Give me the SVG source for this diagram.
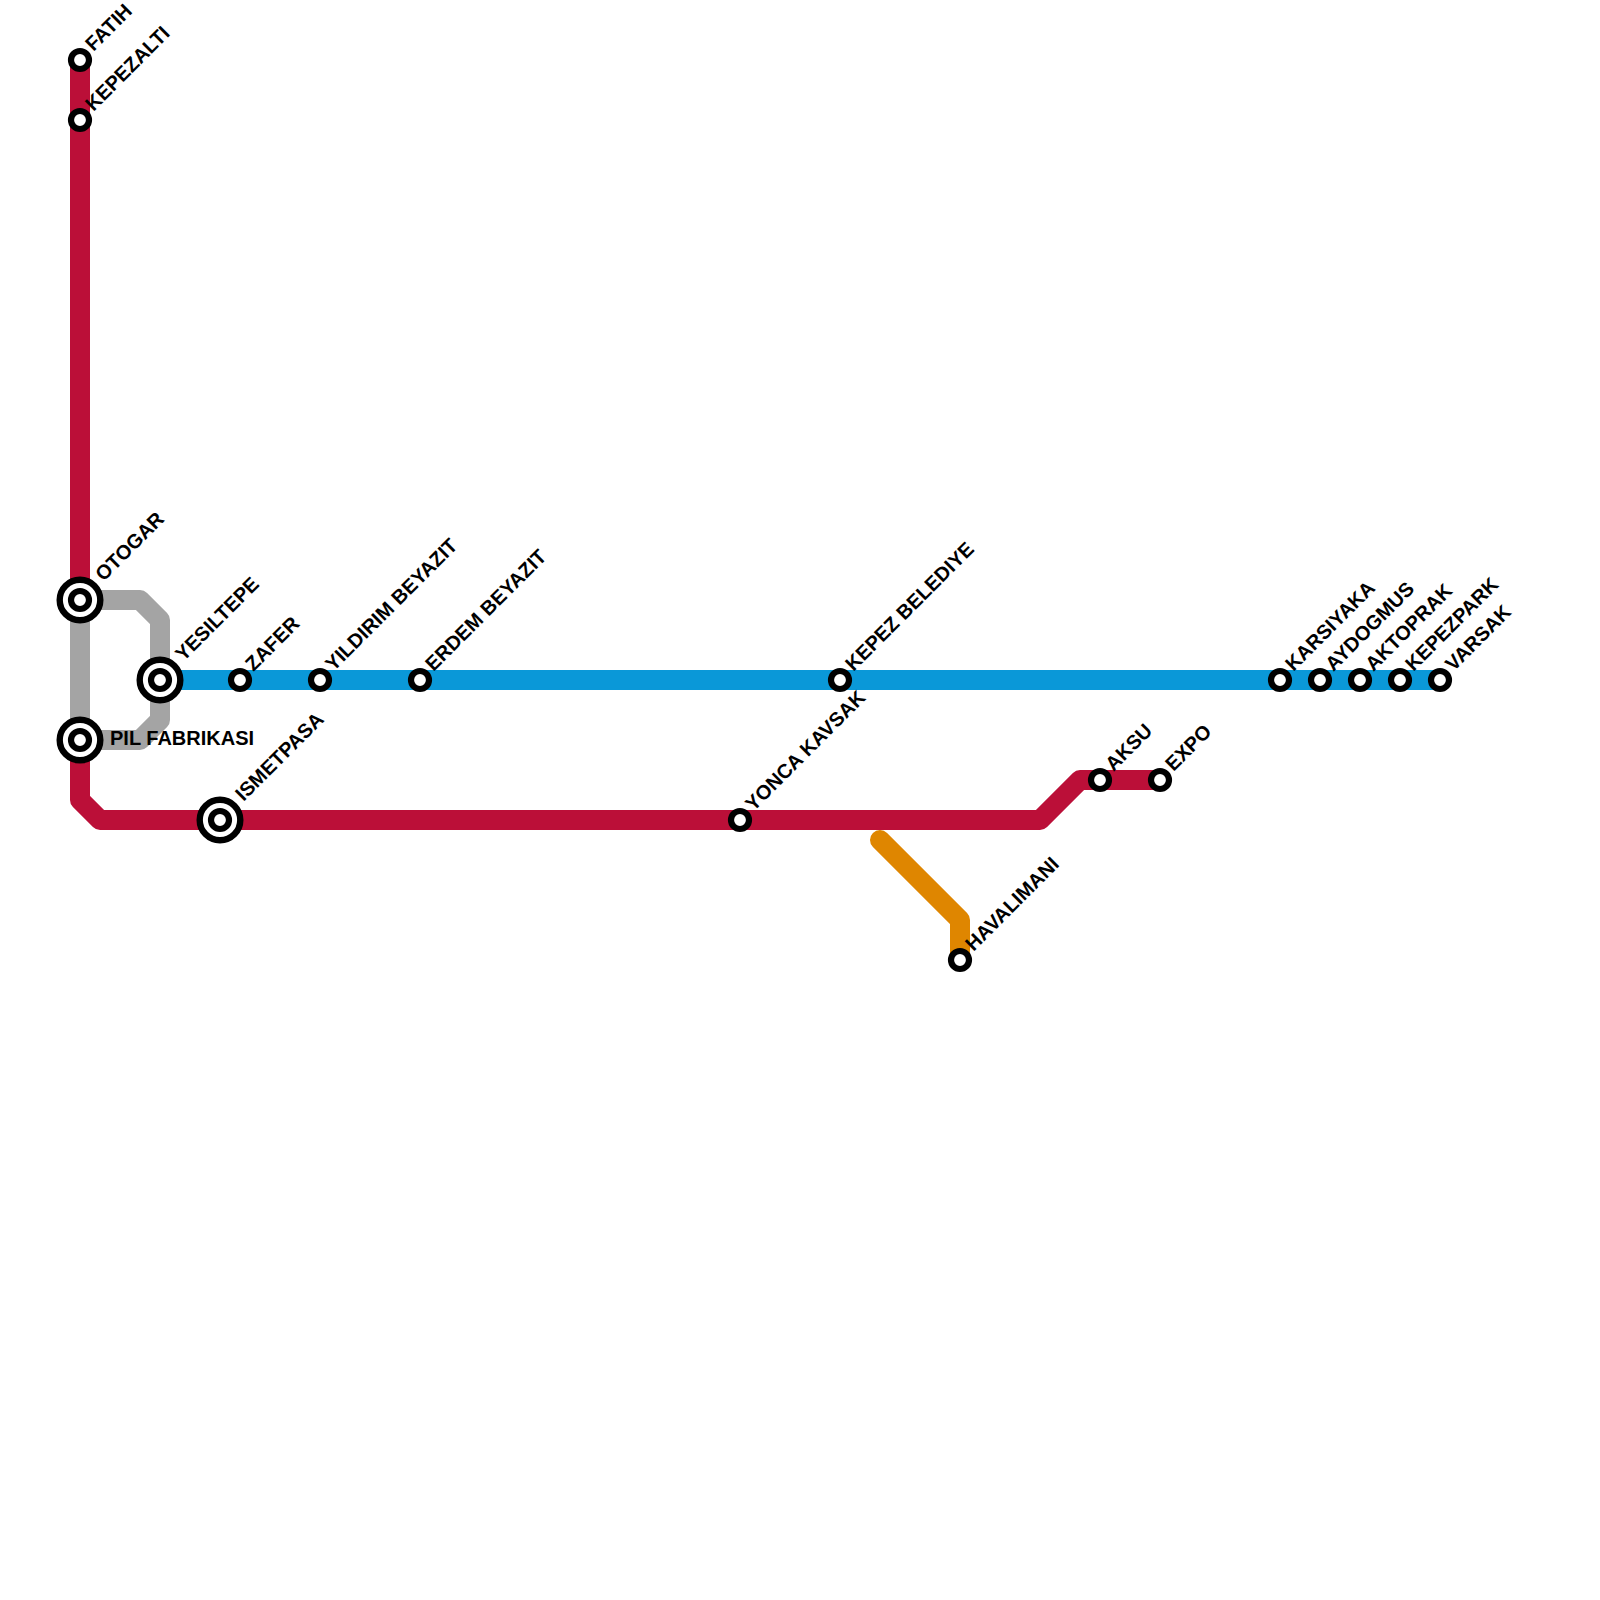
<svg xmlns="http://www.w3.org/2000/svg" width="1600" height="1600" viewBox="0 0 1600 1600">
<style>
.l{fill:none;stroke-width:20;stroke-linejoin:round}
.s{fill:#fff;stroke:#000;stroke-width:6.2}
.o{fill:#fff;stroke:#000;stroke-width:6.4}
.t{font-family:"Liberation Sans",Arial,sans-serif;font-size:20px;font-weight:bold;fill:#000}
</style>
<rect width="1600" height="1600" fill="#fff"/>
<g id="connectors">
<path class="l" stroke="#0a98d8" d="M160 680H1440"/>
<path class="l" stroke="#bb0f38" d="M80 60V800L100 820H1040L1080 780H1160"/>
<path class="l" stroke="#a4a4a4" d="M80 600H140L160 620V720L140 740H80V600"/>
<path class="l" stroke="#df8600" stroke-linecap="round" d="M880 840L960 920V960"/>
</g>
<g id="n-fatih"><circle class="s" cx="80" cy="60" r="9"/><text class="t" transform="translate(93.5 52) rotate(-45)">FATIH</text></g>
<g id="n-kepezalti"><circle class="s" cx="80" cy="120" r="9"/><text class="t" transform="translate(93.5 112) rotate(-45)">KEPEZALTI</text></g>
<g id="n-otogar"><circle class="o" cx="80" cy="600" r="20.3"/><circle class="s" cx="80" cy="600" r="9"/><text class="t" transform="translate(103.5 582) rotate(-45)">OTOGAR</text></g>
<g id="n-pil"><circle class="o" cx="80" cy="740" r="20.3"/><circle class="s" cx="80" cy="740" r="9"/><text class="t" x="110" y="745">PIL FABRIKASI</text></g>
<g id="n-yesiltepe"><circle class="o" cx="160" cy="680" r="20.3"/><circle class="s" cx="160" cy="680" r="9"/><text class="t" transform="translate(183.5 662) rotate(-45)">YESILTEPE</text></g>
<g id="n-zafer"><circle class="s" cx="240" cy="680" r="9"/><text class="t" transform="translate(253.5 672) rotate(-45)">ZAFER</text></g>
<g id="n-yildirim"><circle class="s" cx="320" cy="680" r="9"/><text class="t" transform="translate(333.5 672) rotate(-45)">YILDIRIM BEYAZIT</text></g>
<g id="n-erdem"><circle class="s" cx="420" cy="680" r="9"/><text class="t" transform="translate(433.5 672) rotate(-45)">ERDEM BEYAZIT</text></g>
<g id="n-kepezbel"><circle class="s" cx="840" cy="680" r="9"/><text class="t" transform="translate(853.5 672) rotate(-45)">KEPEZ BELEDIYE</text></g>
<g id="n-karsiyaka"><circle class="s" cx="1280" cy="680" r="9"/><text class="t" transform="translate(1293.5 672) rotate(-45)">KARSIYAKA</text></g>
<g id="n-aydogmus"><circle class="s" cx="1320" cy="680" r="9"/><text class="t" transform="translate(1333.5 672) rotate(-45)">AYDOGMUS</text></g>
<g id="n-aktoprak"><circle class="s" cx="1360" cy="680" r="9"/><text class="t" transform="translate(1373.5 672) rotate(-45)">AKTOPRAK</text></g>
<g id="n-kepezpark"><circle class="s" cx="1400" cy="680" r="9"/><text class="t" transform="translate(1413.5 672) rotate(-45)">KEPEZPARK</text></g>
<g id="n-varsak"><circle class="s" cx="1440" cy="680" r="9"/><text class="t" transform="translate(1453.5 672) rotate(-45)">VARSAK</text></g>
<g id="n-ismetpasa"><circle class="o" cx="220" cy="820" r="20.3"/><circle class="s" cx="220" cy="820" r="9"/><text class="t" transform="translate(243.5 802) rotate(-45)">ISMETPASA</text></g>
<g id="n-yonca"><circle class="s" cx="740" cy="820" r="9"/><text class="t" transform="translate(753.5 812) rotate(-45)">YONCA KAVSAK</text></g>
<g id="n-aksu"><circle class="s" cx="1100" cy="780" r="9"/><text class="t" transform="translate(1113.5 772) rotate(-45)">AKSU</text></g>
<g id="n-expo"><circle class="s" cx="1160" cy="780" r="9"/><text class="t" transform="translate(1173.5 772) rotate(-45)">EXPO</text></g>
<g id="n-havalimani"><circle class="s" cx="960" cy="960" r="9"/><text class="t" transform="translate(973.5 952) rotate(-45)">HAVALIMANI</text></g>
</svg>
